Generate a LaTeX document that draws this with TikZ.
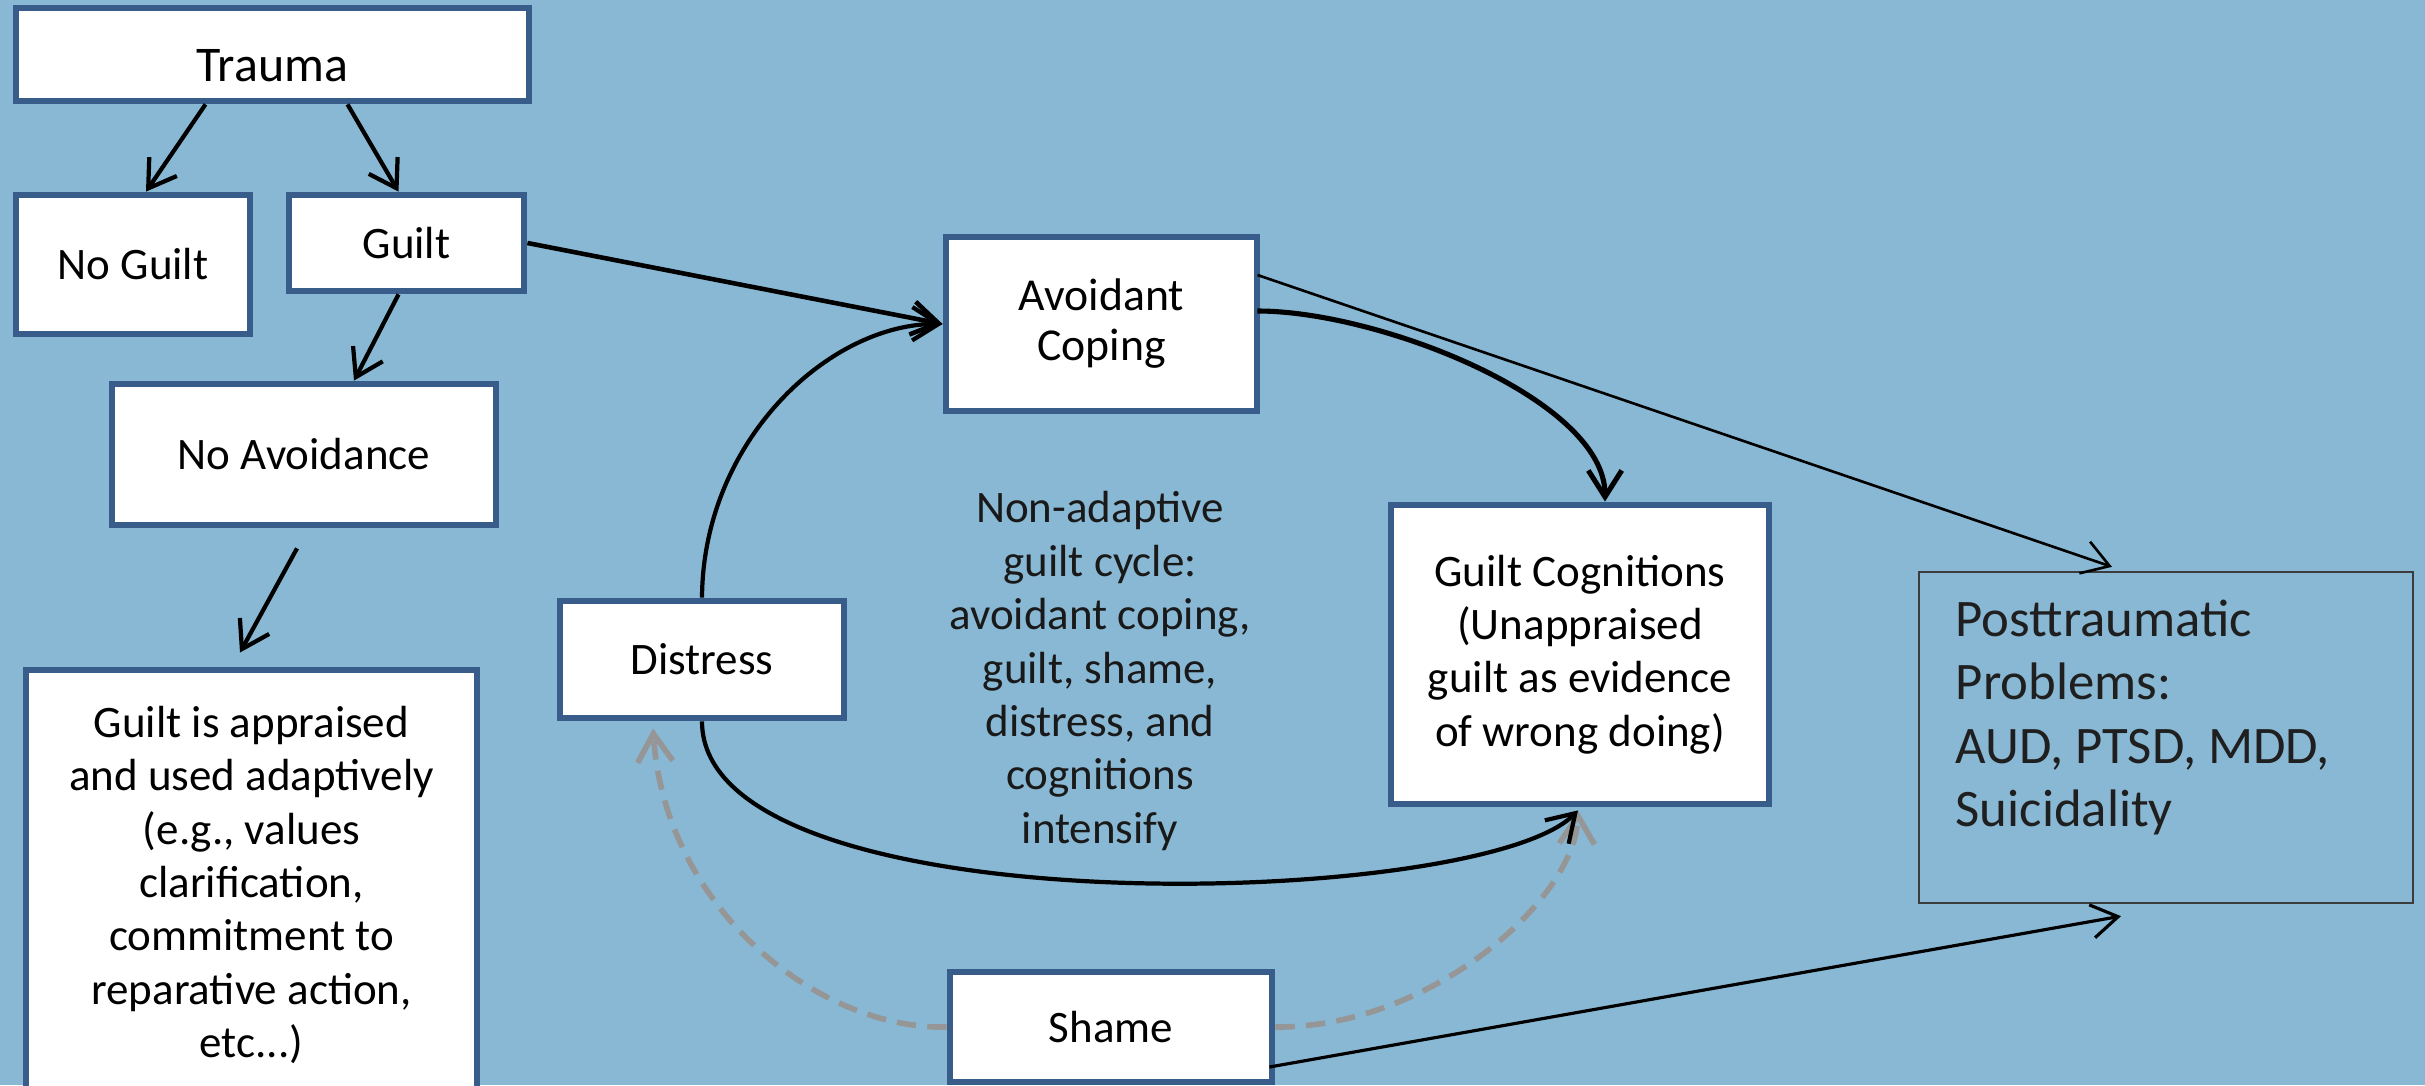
\documentclass[tikz,border=0pt]{standalone}
\usepackage{fontspec}
\setmainfont{Carlito}
\usetikzlibrary{arrows.meta,calc}
\definecolor{bgblue}{RGB}{137,184,212}
\definecolor{boxblue}{RGB}{56,93,138}
\definecolor{dashgray}{RGB}{150,150,150}
\definecolor{postgray}{RGB}{60,60,60}
\newcommand\fsn{\fontsize{12.8pt}{15.2pt}\selectfont}
\newcommand\fstr{\fontsize{14.2pt}{16pt}\selectfont}
\newcommand\fsav{\fontsize{13pt}{14.2pt}\selectfont}
\newcommand\fspost{\fontsize{15pt}{18.1pt}\selectfont}
\begin{document}
\begin{tikzpicture}[x=0.01cm,y=-0.01cm,
  box/.style={draw=boxblue, line width=1.9pt, fill=white, inner sep=0pt, align=center, font=\fsn},
  postbox/.style={draw=postgray, line width=0.6pt, inner sep=0pt},
  posttext/.style={align=left, inner sep=0pt, font=\fspost, text=black!88},
  cycletext/.style={align=center, inner sep=0pt, font=\fsn, text=black!90},
  arr/.style={-{Straight Barb[length=7.5pt,width=9.5pt]}, line width=1.2pt, black},
  thinarr/.style={-{Straight Barb[length=7.5pt,width=9.5pt]}, black},
  grayarr/.style={-{Straight Barb[length=8pt,width=10pt]}, line width=1.6pt, dashgray, dash pattern=on 5.5pt off 3.2pt}
]
\fill[bgblue] (0,0) rectangle (2425,1085);
\useasboundingbox (0,0) rectangle (2425,1085);

% boxes
\node[box, font=\fstr, minimum width=5.13cm, minimum height=0.93cm, text height=15.3pt, text depth=0pt] (trauma) at (272.5,54.5) {Trauma};
\node[box, minimum width=2.34cm, minimum height=1.39cm] (noguilt) at (133,264.5) {No Guilt};
\node[box, minimum width=2.35cm, minimum height=0.96cm] (guilt) at (406.5,243) {Guilt};
\node[box, minimum width=3.84cm, minimum height=1.41cm] (noavoid) at (304,454.5) {No Avoidance};
\node[box, minimum width=4.51cm, minimum height=4.3cm] (appraised) at (251.5,885)
  {Guilt is appraised\\and used adaptively\\(e.g., values\\clarification,\\commitment to\\reparative action,\\etc...)};
\node[box, minimum width=2.84cm, minimum height=1.17cm] (distress) at (702,659.5) {Distress};
\node[box, font=\fsav, minimum width=3.11cm, minimum height=1.74cm] (avoid) at (1101.5,324) {Avoidant\\Coping};
\node[box, minimum width=3.78cm, minimum height=2.99cm] (guiltcog) at (1580,654.5)
  {Guilt Cognitions\\(Unappraised\\guilt as evidence\\of wrong doing)};
\node[box, minimum width=3.22cm, minimum height=1.1cm] (shame) at (1111,1027) {Shame};
\node[postbox, minimum width=4.94cm, minimum height=3.31cm] (post) at (2166,737.5) {};
\node[posttext, anchor=west] (posttxt) at (1955,717.5) {Posttraumatic\\Problems:\\AUD, PTSD, MDD,\\Suicidality};
\node[cycletext] (cycle) at (1100,671)
  {Non-adaptive\\guilt cycle:\\avoidant coping,\\guilt, shame,\\distress, and\\cognitions\\intensify};

% left tree
\draw[arr] ($(trauma.south)+(-67,0)$) -- ($(noguilt.north)+(13,0)$);
\draw[arr] ($(trauma.south)+(75,0)$) -- ($(guilt.north)+(-8,0)$);
\draw[arr] ($(guilt.south)+(-8,0)$) -- ($(noavoid.north)+(50,0)$);
\draw[arr] ($(noavoid.south)+(-7,20)$) -- ($(appraised.north)+(-11.5,-14)$);

% into avoidant coping
\draw[arr, line width=1.3pt] (guilt.east) -- (avoid.west);
\draw[arr] (distress.north) .. controls (703,440) and (830,323) .. (avoid.west);

% avoidant coping out
\draw[arr, line width=1.45pt] ($(avoid.east)+(-3,-13)$) .. controls (1380,311) and (1605,400) .. ($(guiltcog.north)+(25,0)$);
\draw[thinarr, line width=0.75pt] ($(avoid.east)+(-3,-49)$) -- ($(post.north)+(-54,-4)$);

% gray dashed from shame
\draw[grayarr] (shame.west) .. controls (820,1030) and (665,910) .. ($(distress.south)+(-49,7)$);
\draw[grayarr] (shame.east) .. controls (1430,1028) and (1575,900) .. ($(guiltcog.south)+(-2,3)$);

% distress to guilt cognitions
\draw[arr] (distress.south) .. controls (702,930) and (1480,910) .. ($(guiltcog.south)+(-2,3)$);

% shame to posttraumatic
\draw[thinarr, line width=0.9pt] ($(shame.east)+(-6,40)$) -- ($(post.south)+(-45,12)$);
\end{tikzpicture}
\end{document}
